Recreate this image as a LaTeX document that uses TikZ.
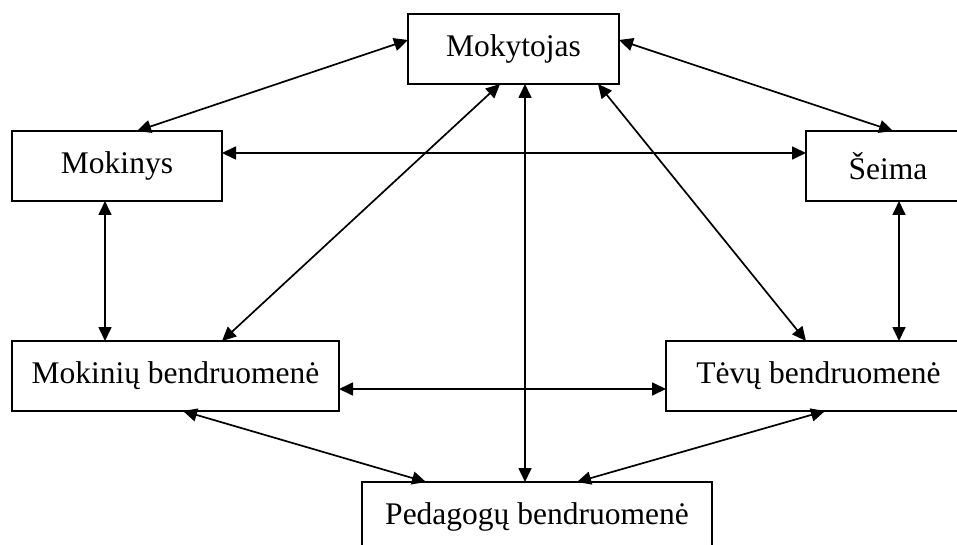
\documentclass[tikz,border=0pt]{standalone}
\usepackage{fontspec}
\setmainfont{Liberation Serif}
\usetikzlibrary{arrows.meta,calc}
\begin{document}
\begin{tikzpicture}[x=1pt,y=-1pt,
  box/.style={draw,line width=2pt,rectangle,inner sep=0pt,outer sep=0pt,minimum height=70pt,font=\fontsize{31.5}{37}\selectfont},
  arr/.style={line width=1.7pt,{Triangle[length=14pt,width=13pt]}-{Triangle[length=14pt,width=13pt]}}]
\useasboundingbox (0,0) rectangle (957,545);
\clip (0,0) rectangle (957,545);
\node[box,minimum width=211pt] (mokytojas) at (513.5,49) {Mokytojas};
\node[box,minimum width=210pt] (mokinys) at (117,166) {Mokinys};
\node[box,minimum width=164pt] (seima) at (888,166) {Šeima};
\node[box,minimum width=327pt] (mokiniu) at (175.5,376) {Mokinių bendruomenė};
\node[box,minimum width=305pt] (tevu) at (818.5,376) {Tėvų bendruomenė};
\node[box,minimum width=350pt] (pedagogu) at (537,517) {Pedagogų bendruomenė};
\draw[arr] ($(mokytojas.north west)+(0,26)$) -- ($(mokinys.north west)+(125,0)$);
\draw[arr] ($(mokytojas.north east)+(0,26)$) -- ($(seima.north west)+(87,0)$);
\draw[arr] ($(mokinys.north east)+(0,22)$) -- ($(seima.north west)+(0,22)$);
\draw[arr] ($(mokinys.south west)+(93,0)$) -- ($(mokiniu.north west)+(93,0)$);
\draw[arr] ($(seima.south west)+(93,0)$) -- ($(tevu.north west)+(233,0)$);
\draw[arr] ($(mokytojas.south west)+(92,0)$) -- ($(mokiniu.north west)+(210,0)$);
\draw[arr] ($(mokytojas.south west)+(117,0)$) -- ($(pedagogu.north west)+(163,0)$);
\draw[arr] ($(mokytojas.south west)+(190,0)$) -- ($(tevu.north west)+(140,0)$);
\draw[arr] ($(mokiniu.north east)+(0,48)$) -- ($(tevu.north west)+(0,48)$);
\draw[arr] ($(mokiniu.south west)+(171,0)$) -- ($(pedagogu.north west)+(64,0)$);
\draw[arr] ($(tevu.south west)+(159,0)$) -- ($(pedagogu.north west)+(215,0)$);
\end{tikzpicture}
\end{document}
